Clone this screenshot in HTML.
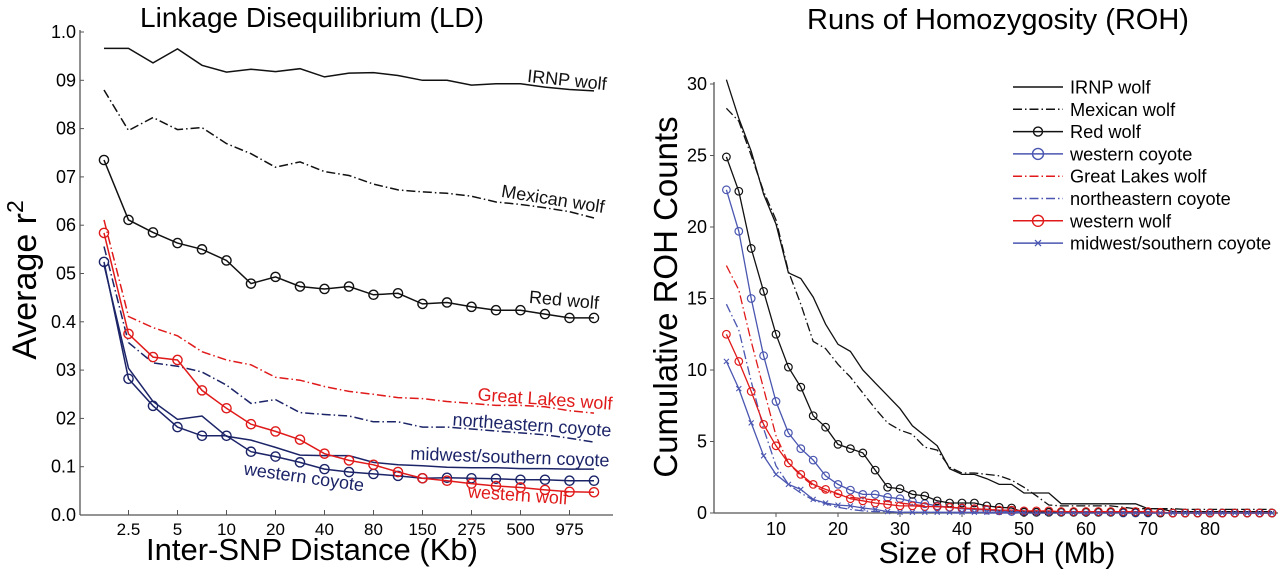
<!DOCTYPE html>
<html><head><meta charset="utf-8"><style>
html,body{margin:0;padding:0;background:#fff}
svg{display:block;font-family:"Liberation Sans",Arial,sans-serif}
</style></head><body>
<svg id="fig" width="1280" height="575" viewBox="0 0 1280 575" xmlns="http://www.w3.org/2000/svg">
<g id="ld"></g>
<g id="roh"></g>
</svg>
<script>
// ---------- LD chart data ----------
const ldCats = ["1","2.5","3.5","5","7.5","10","15","20","30","40","60","80","100","150","200","275","350","500","700","975","1200"];
const ldTickLabels = ["2.5","5","10","20","40","80","150","275","500","975"];
const ldTickIdx = [1,3,5,7,9,11,13,15,17,19];
const ldYTicks = [0,0.1,0.2,0.3,0.4,0.5,0.6,0.7,0.8,0.9,1.0];
const ldYTickLabels = ["0.0","0.1","02","03","0.4","05","06","07","08","09","1.0"];
const ldIRNP = [0.966,0.966,0.936,0.965,0.931,0.917,0.923,0.918,0.924,0.907,0.915,0.916,0.910,0.900,0.900,0.890,0.893,0.893,0.886,0.881,0.878];
const ldMexican = [0.880,0.796,0.823,0.798,0.802,0.769,0.748,0.720,0.731,0.711,0.703,0.685,0.673,0.669,0.666,0.660,0.648,0.643,0.636,0.628,0.615];
const ldRed = [0.735,0.611,0.585,0.563,0.550,0.527,0.479,0.493,0.473,0.468,0.473,0.456,0.459,0.437,0.440,0.431,0.424,0.424,0.416,0.408,0.408];
const ldGreatLakes = [0.611,0.411,0.388,0.371,0.338,0.321,0.311,0.285,0.279,0.266,0.256,0.250,0.243,0.241,0.235,0.231,0.227,0.227,0.224,0.216,0.211];
const ldNECoyote = [0.556,0.357,0.315,0.308,0.296,0.269,0.231,0.239,0.212,0.208,0.205,0.193,0.193,0.182,0.182,0.178,0.174,0.170,0.166,0.159,0.151];
const ldWesternWolf = [0.584,0.375,0.327,0.321,0.258,0.221,0.188,0.173,0.156,0.127,0.113,0.104,0.089,0.076,0.071,0.065,0.060,0.057,0.052,0.048,0.047];
const ldMidwest = [0.518,0.304,0.235,0.198,0.205,0.163,0.155,0.140,0.124,0.123,0.123,0.109,0.104,0.102,0.099,0.098,0.098,0.096,0.096,0.095,0.095];
const ldWesternCoyote = [0.524,0.282,0.226,0.182,0.164,0.164,0.131,0.121,0.109,0.095,0.089,0.085,0.081,0.076,0.077,0.076,0.075,0.073,0.073,0.071,0.071];

// ---------- ROH chart data ----------
const rohSizes = [2,4,6,8,10,12,14,16,18,20,22,24,26,28,30,32,34,36,38,40,42,44,46,48,50,52,54,56,58,60,62,64,66,68,70,72,74,76,78,80,82,84,86,88,90];
const rohXTicks = [10,20,30,40,50,60,70,80];
const rohYTicks = [0,5,10,15,20,25,30];
const rohIRNP = [30.3,27.6,25.3,22.3,20.2,16.8,16.4,15.1,13.2,11.8,11.3,10.0,9.1,8.2,7.3,6.1,5.4,4.7,3.1,2.7,2.7,2.4,2.0,2.0,1.4,1.4,1.4,0.64,0.64,0.64,0.64,0.64,0.64,0.64,0.3,0.3,0.1,0.1,0.1,0.1,0.1,0.1,0.1,0.1,0.1];
const rohMexican = [28.3,27.4,25.0,22.5,20.5,16.9,14.6,12.0,11.5,10.4,9.5,8.4,7.3,6.3,5.8,5.5,4.6,4.4,3.2,2.8,2.8,2.7,2.6,2.3,1.8,1.2,0.56,0.5,0.5,0.5,0.5,0.5,0.4,0.3,0.3,0.3,0.3,0.25,0.25,0.25,0.25,0.25,0.25,0.25,0.25];
const rohRed = [24.9,22.5,18.5,15.5,12.5,10.2,8.8,6.8,6.0,4.8,4.5,4.2,3.0,1.8,1.7,1.3,1.2,0.85,0.7,0.7,0.7,0.5,0.4,0.35,0.05,0.05,0.05,0.05,0.05,0.05,0.05,0.05,0.05,0.05,0.05,0,0,0,0,0,0,0,0,0,0];
const rohWesternCoyote = [22.6,19.7,15.0,11.0,7.8,5.6,4.5,3.7,2.6,2.0,1.6,1.3,1.3,1.1,1.0,0.8,0.65,0.5,0.4,0.3,0.25,0.2,0.15,0.1,0.1,0.05,0.05,0.05,0.05,0.05,0.05,0.05,0,0,0,0,0,0,0,0,0,0,0,0,0];
const rohGreatLakes = [17.3,15.6,12.0,8.7,5.4,3.5,2.6,1.9,1.5,1.3,1.1,1.0,0.9,0.8,0.7,0.6,0.5,0.45,0.4,0.35,0.3,0.25,0.2,0.2,0.15,0.15,0.1,0.1,0.1,0.1,0.1,0.1,0.1,0.1,0.05,0.05,0,0,0,0,0,0,0,0,0];
const rohNECoyote = [14.6,12.8,9.2,5.9,3.3,2.0,1.4,0.9,0.65,0.4,0.25,0.15,0.1,0.1,0.05,0.05,0.05,0.05,0,0,0,0,0,0,0,0,0,0,0,0,0,0,0,0,0,0,0,0,0,0,0,0,0,0,0];
const rohWesternWolf = [12.5,10.6,8.5,6.2,4.7,3.5,2.7,2.0,1.65,1.35,1.0,0.85,0.7,0.6,0.5,0.5,0.45,0.45,0.4,0.35,0.3,0.25,0.2,0.2,0.15,0.15,0.15,0.1,0.1,0.1,0.1,0.1,0.1,0.1,0.1,0.05,0,0,0,0,0,0,0,0,0];
const rohMidwest = [10.6,8.7,6.3,4.0,2.7,2.0,1.65,0.95,0.7,0.55,0.5,0.35,0.25,0.1,0.05,0.05,0.05,0.05,0.05,0.05,0.05,0.05,0.05,0.05,0,0,0,0,0,0,0,0,0,0,0,0,0,0,0,0,0,0,0,0,0];

const NS = "http://www.w3.org/2000/svg";
function mk(parent, tag, attrs, text){
  const e = document.createElementNS(NS, tag);
  for (const k in attrs) e.setAttribute(k, attrs[k]);
  if (text !== undefined) e.textContent = text;
  parent.appendChild(e);
  return e;
}
const DD = "9,3,1.5,3";
const NAVY = "#1c2468", BLUE = "#4a56b0", RED = "#e01a1a";

// ===== LD =====
(function(){
  const g = document.getElementById("ld");
  const x0 = 80, yTop = 32, yBot = 515, xEnd = 613;
  const xs = i => 104 + i * 24.5;
  const ys = v => yBot - v * (yBot - yTop);
  let e;
  e = mk(g, "text", {x: 312, y: 27, "font-size": 28, "text-anchor": "middle"}, "Linkage Disequilibrium (LD)");
   
  e = mk(g, "line", {x1: x0, y1: yTop - 2, x2: x0, y2: yBot, stroke: "#555", "stroke-width": 1.3});
   
  e = mk(g, "line", {x1: x0, y1: yBot, x2: xEnd, y2: yBot, stroke: "#555", "stroke-width": 1.3});
   
  ldYTicks.forEach((v, i) => {
    const t = mk(g, "text", {x: 76, y: ys(v) + 6, "font-size": 18, "text-anchor": "end"}, ldYTickLabels[i]);
     
    mk(g, "line", {x1: x0, y1: ys(v), x2: x0 + 4, y2: ys(v), stroke: "#555", "stroke-width": 1});
  });
  ldTickIdx.forEach((idx, i) => {
    mk(g, "line", {x1: xs(idx), y1: yBot, x2: xs(idx), y2: yBot - 5, stroke: "#555", "stroke-width": 1});
    const t = mk(g, "text", {x: xs(idx), y: 535, "font-size": 17, "text-anchor": "middle"}, ldTickLabels[i]);
     
  });
  e = mk(g, "text", {x: 312, y: 560, "font-size": 31, "text-anchor": "middle"}, "Inter-SNP Distance (Kb)");
   
  e = mk(g, "text", {x: 0, y: 0, "font-size": 34, "text-anchor": "middle", transform: "translate(36,280) rotate(-90)"});
   
  e.textContent = "Average r";
  const sup = mk(e, "tspan", {dy: -13, "font-size": 23}, "2");

  function series(name, vals, color, dash, marker, w){
    const sg = mk(g, "g", {});
     
    const pts = vals.map((v, i) => xs(i).toFixed(1) + "," + ys(v).toFixed(1)).join(" ");
    const pl = mk(sg, "polyline", {points: pts, fill: "none", stroke: color, "stroke-width": w || 1.5});
    if (dash) pl.setAttribute("stroke-dasharray", dash);
    if (marker) vals.forEach((v, i) => {
      const c = mk(sg, "circle", {cx: xs(i), cy: ys(v), r: 4.6, fill: "none", stroke: color, "stroke-width": 1.4});
       
    });
  }
  series("ld-irnp-wolf-line", ldIRNP, "#111", null, false);
  series("ld-mexican-wolf-line", ldMexican, "#111", DD, false);
  series("ld-red-wolf-line", ldRed, "#111", null, true);
  series("ld-great-lakes-wolf-line", ldGreatLakes, RED, DD, false);
  series("ld-northeastern-coyote-line", ldNECoyote, NAVY, DD, false);
  series("ld-midwest-southern-coyote-line", ldMidwest, NAVY, null, false);
  series("ld-western-coyote-line", ldWesternCoyote, NAVY, null, true);
  series("ld-western-wolf-line", ldWesternWolf, RED, null, true);

  function label(name, txt, cx, cy, rot, color){
    const t = mk(g, "text", {x: cx, y: cy + 6, "font-size": 18, "text-anchor": "middle", fill: color, transform: `rotate(${rot} ${cx} ${cy})`}, txt);
     
  }
  label("label-irnp-wolf", "IRNP wolf", 567, 80, 6, "#111");
  label("label-mexican-wolf", "Mexican wolf", 553, 199, 9, "#111");
  label("label-red-wolf", "Red wolf", 564, 300, 5, "#111");
  label("label-great-lakes-wolf", "Great Lakes wolf", 545, 399, 4, RED);
  label("label-northeastern-coyote", "northeastern coyote", 532, 425, 4, NAVY);
  label("label-midwest-southern-coyote", "midwest/southern coyote", 510, 457, 2, NAVY);
  label("label-western-coyote", "western coyote", 304, 477, 8, NAVY);
  label("label-western-wolf", "western wolf", 518, 495, 4, RED);
})();

// ===== ROH =====
(function(){
  const g = document.getElementById("roh");
  const x0 = 714, yTop = 84, yBot = 513, xEnd = 1278;
  const xs = v => x0 + v * 6.2;
  const ys = v => yBot - v * (yBot - yTop) / 30;
  let e;
  e = mk(g, "text", {x: 998, y: 29, "font-size": 29, "text-anchor": "middle"}, "Runs of Homozygosity (ROH)");
   
  e = mk(g, "line", {x1: x0, y1: yTop - 2, x2: x0, y2: yBot, stroke: "#555", "stroke-width": 1.3});
   
  e = mk(g, "line", {x1: x0, y1: yBot, x2: xEnd, y2: yBot, stroke: "#555", "stroke-width": 1.3});
   
  rohYTicks.forEach(v => {
    mk(g, "line", {x1: x0 - 4, y1: ys(v), x2: x0, y2: ys(v), stroke: "#555", "stroke-width": 1});
    const t = mk(g, "text", {x: 707, y: ys(v) + 6, "font-size": 18, "text-anchor": "end"}, String(v));
     
  });
  rohXTicks.forEach(v => {
    mk(g, "line", {x1: xs(v), y1: yBot, x2: xs(v), y2: yBot + 4, stroke: "#555", "stroke-width": 1});
    const t = mk(g, "text", {x: xs(v), y: 535, "font-size": 18, "text-anchor": "middle"}, String(v));
     
  });
  e = mk(g, "text", {x: 997, y: 563, "font-size": 30, "text-anchor": "middle"}, "Size of ROH (Mb)");
   
  e = mk(g, "text", {x: 0, y: 0, "font-size": 33, "text-anchor": "middle", transform: "translate(677,297) rotate(-90)"}, "Cumulative ROH Counts");
   

  function drawMarker(sg, x, y, color, marker, name){
    if (marker === "o") {
      const c = mk(sg, "circle", {cx: x, cy: y, r: 3.8, fill: "none", stroke: color, "stroke-width": 1.2});
       
    } else if (marker === "x") {
      const p = mk(sg, "path", {d: `M${x-2.5},${y-2.5}L${x+2.5},${y+2.5}M${x-2.5},${y+2.5}L${x+2.5},${y-2.5}`, stroke: color, "stroke-width": 1.1});
       
    }
  }
  function series(name, vals, color, dash, marker){
    const sg = mk(g, "g", {});
     
    const pts = vals.map((v, i) => xs(rohSizes[i]).toFixed(1) + "," + ys(v).toFixed(1)).join(" ");
    const pl = mk(sg, "polyline", {points: pts, fill: "none", stroke: color, "stroke-width": 1.3});
    if (dash) pl.setAttribute("stroke-dasharray", dash);
    if (marker) vals.forEach((v, i) => drawMarker(sg, xs(rohSizes[i]), ys(v), color, marker, name));
  }
  series("roh-irnp-wolf-line", rohIRNP, "#111", null, null);
  series("roh-mexican-wolf-line", rohMexican, "#111", DD, null);
  series("roh-great-lakes-wolf-line", rohGreatLakes, RED, DD, null);
  series("roh-northeastern-coyote-line", rohNECoyote, BLUE, DD, null);
  series("roh-western-coyote-line", rohWesternCoyote, BLUE, null, "o");
  series("roh-red-wolf-line", rohRed, "#111", null, "o");
  series("roh-western-wolf-line", rohWesternWolf, RED, null, "o");
  series("roh-midwest-southern-coyote-line", rohMidwest, BLUE, null, "x");

  const legendNames = ["IRNP wolf","Mexican wolf","Red wolf","western coyote","Great Lakes wolf","northeastern coyote","western wolf","midwest/southern coyote"];
  const legendColors = ["#111","#111","#111",BLUE,RED,BLUE,RED,BLUE];
  const legendDash = [null,DD,null,null,DD,DD,null,null];
  const legendMarker = [null,null,"o","o",null,null,"o","x"];
  const lg = mk(g, "g", {});
   
  legendNames.forEach((n, i) => {
    const y = 87 + i * 22.3;
    const eg = mk(lg, "g", {});
     
    const l = mk(eg, "line", {x1: 1013, y1: y, x2: 1063, y2: y, stroke: legendColors[i], "stroke-width": 1.5});
    if (legendDash[i]) l.setAttribute("stroke-dasharray", legendDash[i]);
    if (legendMarker[i] === "o") mk(eg, "circle", {cx: 1038, cy: y, r: legendColors[i] === "#111" ? 4.5 : 5.5, fill: "none", stroke: legendColors[i], "stroke-width": 1.4});
    if (legendMarker[i] === "x") mk(eg, "path", {d: `M1035,${y-3}L1041,${y+3}M1035,${y+3}L1041,${y-3}`, stroke: legendColors[i], "stroke-width": 1.3});
    mk(eg, "text", {x: 1070, y: y + 6.5, "font-size": 18.2}, n);
  });
})();
</script>
</body></html>
